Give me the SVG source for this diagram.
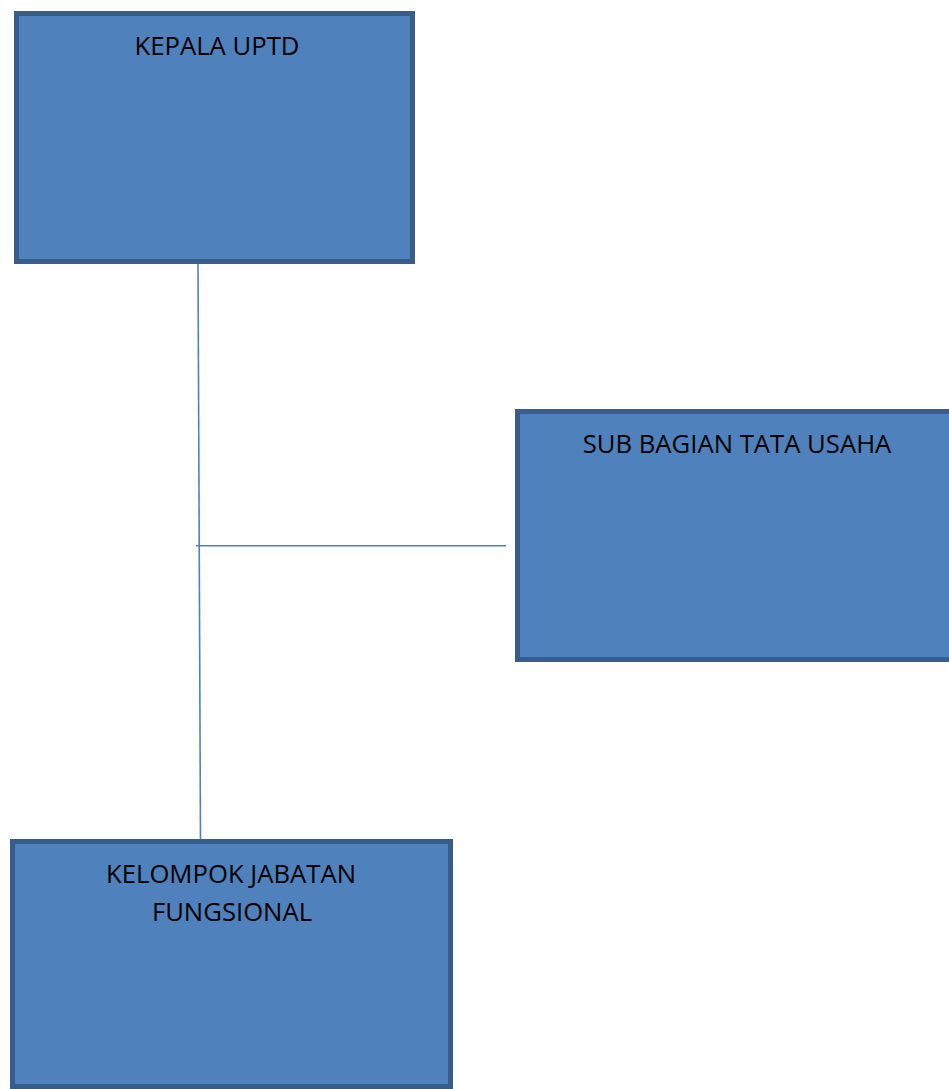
<svg xmlns="http://www.w3.org/2000/svg" width="949" height="1089" viewBox="0 0 949 1089">
<style>
.box{fill:#4F81BD;stroke:#385D8A;stroke-width:5}
.lbl{font-family:"Open Sans","Noto Sans","Liberation Sans",sans-serif;font-size:25.7px;fill:#000;text-anchor:middle}
.conn{stroke:#4F81BD;stroke-width:1.6;fill:none}
</style>
<rect width="949" height="1089" fill="#fff"/>
<g id="connectors">
<line class="conn" x1="198" y1="264" x2="200.5" y2="842"/>
<line class="conn" x1="196" y1="545.7" x2="506" y2="545.7"/>
</g>
<g id="kepala-uptd">
<rect class="box" x="16.5" y="13.5" width="396" height="248"/>
<text class="lbl" x="217" y="55">KEPALA UPTD</text>
</g>
<g id="sub-bagian-tata-usaha">
<rect class="box" x="517.5" y="411.5" width="440" height="248"/>
<text class="lbl" x="737" y="453">SUB BAGIAN TATA USAHA</text>
</g>
<g id="kelompok-jabatan-fungsional">
<rect class="box" x="12.5" y="841.5" width="438" height="245"/>
<text class="lbl" x="231" y="883">KELOMPOK JABATAN</text>
<text class="lbl" x="232" y="921">FUNGSIONAL</text>
</g>
</svg>
